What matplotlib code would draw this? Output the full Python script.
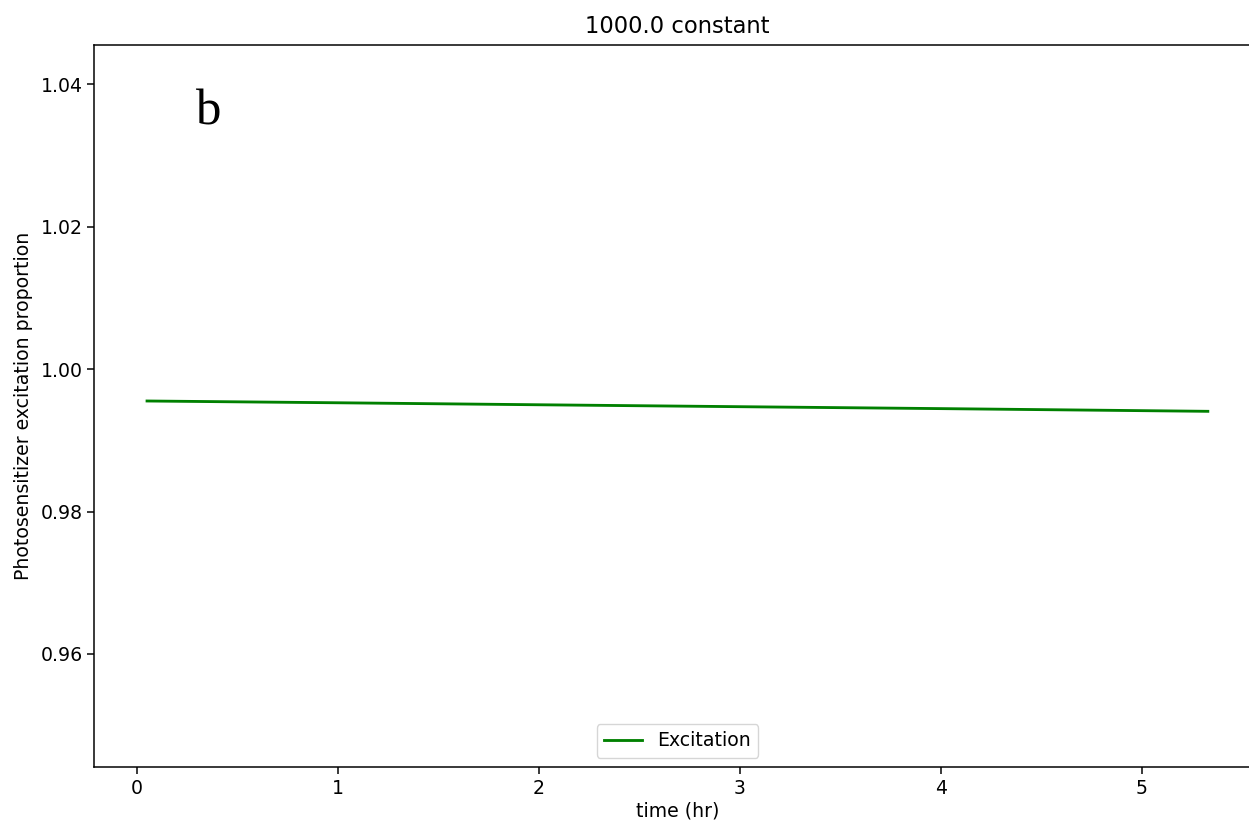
import matplotlib
matplotlib.use("Agg")
import matplotlib.pyplot as plt

# Excitation proportion over time (hours)
time_hr = [0.05, 1.0, 2.0, 3.0, 4.0, 5.33]
excitation = [0.99553, 0.99528, 0.99500, 0.99473, 0.99446, 0.99408]

title = "1000.0 constant"
panel_label = "b"

S = 1.36  # font scale for the figure resolution

fig = plt.figure(figsize=(12.49, 8.27), dpi=100)
ax = fig.add_axes([0.0755, 0.0722, 0.934, 0.8737])

ax.plot(time_hr, excitation, color="green", linewidth=1.5 * S, label="Excitation")

ax.set_xlim(-0.2125, 5.594)
ax.set_ylim(0.94409, 1.04556)
ax.set_yticks([0.96, 0.98, 1.00, 1.02, 1.04])
ax.set_xticks([0, 1, 2, 3, 4, 5])

ax.tick_params(labelsize=10 * S, length=3.5 * S, width=0.8 * S)
for sp in ax.spines.values():
    sp.set_linewidth(0.8 * S)

ax.set_title(title, fontsize=12 * S, pad=6 * S)
ax.set_xlabel("time (hr)", fontsize=10 * S, labelpad=2 * S)
ax.set_ylabel("Photosensitizer excitation proportion", fontsize=10 * S, labelpad=4 * S)

ax.text(0.29, 1.0344, panel_label, fontsize=27 * S, family="Liberation Serif")

ax.legend(loc="lower center", fontsize=10 * S, borderaxespad=0.5)

fig.savefig("out.png", dpi=100)
